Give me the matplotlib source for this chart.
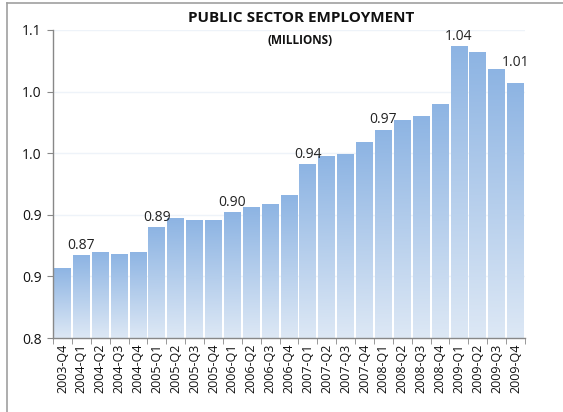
import numpy as np
import matplotlib
matplotlib.use('Agg')
import matplotlib.pyplot as plt
from matplotlib.colors import LinearSegmentedColormap
from matplotlib.patches import Rectangle
from matplotlib.lines import Line2D

quarters = ['2003-Q4',
            '2004-Q1', '2004-Q2', '2004-Q3', '2004-Q4',
            '2005-Q1', '2005-Q2', '2005-Q3', '2005-Q4',
            '2006-Q1', '2006-Q2', '2006-Q3', '2006-Q4',
            '2007-Q1', '2007-Q2', '2007-Q3', '2007-Q4',
            '2008-Q1', '2008-Q2', '2008-Q3', '2008-Q4',
            '2009-Q1', '2009-Q2', '2009-Q3', '2009-Q4']
employment = [0.857,
              0.867, 0.870, 0.868, 0.870,
              0.890, 0.897, 0.896, 0.896,
              0.902, 0.906, 0.909, 0.916,
              0.941, 0.948, 0.949, 0.959,
              0.969, 0.977, 0.980, 0.990,
              1.037, 1.032, 1.018, 1.007]
# only a handful of bars carry a value label
labelled = ['2004-Q1', '2005-Q1', '2006-Q1', '2007-Q1', '2008-Q1', '2009-Q1', '2009-Q4']
ytick_values = [0.80, 0.85, 0.90, 0.95, 1.00, 1.05]
ytick_labels = ['0.8', '0.9', '0.9', '1.0', '1.0', '1.1']

plt.rcParams['font.family'] = ['Open Sans', 'DejaVu Sans']

fig = plt.figure(figsize=(5.63, 4.12), dpi=100)
ax = fig.add_axes([53 / 563, 1 - 338 / 412, 472 / 563, 308 / 412])

ymin, ymax = 0.80, 1.05
x = np.arange(len(quarters))
width = 0.89

# each bar gets its own vertical gradient, dark at the top
cmap = LinearSegmentedColormap.from_list('barfill', ['#dde8f5', '#8db4e3'])
grad = np.linspace(0, 1, 256).reshape(-1, 1)
for xi, v in zip(x, employment):
    rect = Rectangle((xi - width / 2, ymin), width, v - ymin,
                     facecolor='none', edgecolor='none')
    ax.add_patch(rect)
    im = ax.imshow(grad, cmap=cmap, origin='lower', aspect='auto',
                   extent=(xi - width / 2, xi + width / 2, ymin, v), zorder=2)
    im.set_clip_path(rect)

# last label sits a little higher than the rest
lift = {'2009-Q4': 20}
for q, v in zip(quarters, employment):
    if q in labelled:
        ax.annotate(f'{v:.2f}', (quarters.index(q), v), xytext=(0, lift.get(q, 10)),
                    textcoords='offset pixels', ha='center', va='center',
                    fontsize=10, color='#222222', zorder=3)

ax.set_xlim(-0.5, len(quarters) - 0.5)
ax.set_ylim(ymin, ymax)

ax.set_yticks(ytick_values)
ax.set_yticklabels(ytick_labels)
ax.set_xticks(x)
ax.set_xticklabels(quarters, rotation=90)
ax.set_xticks(np.arange(-0.5, len(quarters)), minor=True)
ax.tick_params(axis='x', which='major', length=0, pad=4, labelsize=9, labelcolor='#111111')
ax.tick_params(axis='x', which='minor', length=4, color='#888888', direction='out')
ax.tick_params(axis='y', length=4, color='#888888', labelsize=10, labelcolor='#111111', pad=4)

ax.yaxis.grid(True, color='#eef3f9', linewidth=1.0)
ax.set_axisbelow(True)
for side in ('top', 'right'):
    ax.spines[side].set_visible(False)
for side in ('left', 'bottom'):
    ax.spines[side].set_color('#888888')
    ax.spines[side].set_linewidth(1.0)

fig.text(301 / 563, 1 - 18 / 412, 'PUBLIC SECTOR EMPLOYMENT', ha='center', va='center',
         fontsize=11, fontweight='bold', color='#111111')
fig.text(300 / 563, 1 - 40 / 412, '(MILLIONS)', ha='center', va='center',
         fontsize=8.5, fontweight='bold', color='#111111')

# chart-area border running off the right and bottom edges
fig.add_artist(Line2D([6.5 / 563, 6.5 / 563], [0, 1 - 3 / 412], color='#a0a0a0', linewidth=1.2))
fig.add_artist(Line2D([6.5 / 563, 1], [1 - 3 / 412, 1 - 3 / 412], color='#a0a0a0', linewidth=1.2))

fig.savefig('out.png', dpi=100)
